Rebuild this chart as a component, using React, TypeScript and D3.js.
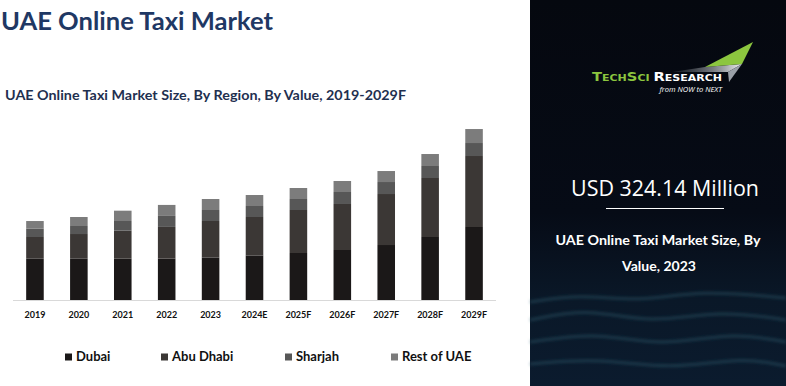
import React from 'react';
import * as d3 from 'd3';

const years = ['2019', '2020', '2021', '2022', '2023', '2024E', '2025F', '2026F', '2027F', '2028F', '2029F'];
const dubai = [132.5, 132.5, 132.6, 132.8, 135.8, 142.2, 150.9, 160.5, 176.5, 202.2, 234.3];
const abuDhabi = [69.7, 79.3, 89.9, 101.8, 117.8, 124.2, 138.0, 147.7, 163.7, 189.4, 227.9];
const sharjah = [26.6, 25.7, 31.1, 35.3, 35.3, 35.3, 35.3, 38.5, 38.5, 38.5, 41.7];
const restOfUAE = [24.7, 28.9, 33.1, 35.3, 35.3, 35.3, 35.3, 35.3, 35.3, 38.5, 44.9];
const seriesNames = ['Dubai', 'Abu Dhabi', 'Sharjah', 'Rest of UAE'];
const seriesColors = ['#1b1818', '#3b3735', '#575757', '#7c7c7c'];

const mainTitle = 'UAE Online Taxi Market';
const chartTitle = 'UAE Online Taxi Market Size, By Region, By Value, 2019-2029F';
const headlineValue = 'USD 324.14 Million';
const headlineCaption1 = 'UAE Online Taxi Market Size, By';
const headlineCaption2 = 'Value, 2023';

const W = 786;
const H = 386;

export default function App() {
  const seriesArrays = [dubai, abuDhabi, sharjah, restOfUAE];
  const rows = years.map((y, i) => {
    const r: any = { year: y };
    seriesNames.forEach((s, k) => (r[s] = seriesArrays[k][i]));
    return r;
  });
  const stacked = d3.stack().keys(seriesNames)(rows);

  const x = d3.scaleBand().domain(years).range([13, 496]).paddingInner(0.6).paddingOuter(0.3);
  const y = d3.scaleLinear().domain([0, 600]).range([300, 300 - 600 / 3.21]);

  const wave = d3.line<[number, number]>().curve(d3.curveBasis);
  const waves: [number, number][][] = [
    [[530, 302], [580, 294], [640, 302], [700, 290], [786, 298]],
    [[530, 320], [590, 308], [650, 324], [720, 310], [786, 320]],
    [[530, 342], [600, 332], [660, 347], [730, 332], [786, 342]],
    [[530, 364], [600, 358], [670, 370], [740, 357], [786, 366]],
  ];

  const legendX = [65, 161, 285, 391];

  return (
    <svg width={W} height={H} style={{ position: 'absolute', left: 0, top: 0 }} fontFamily="Lato, 'Open Sans', sans-serif">
      <defs>
        <linearGradient id="panelBg" x1="0" y1="0" x2="0" y2="1">
          <stop offset="0" stopColor="#05080f" />
          <stop offset="0.55" stopColor="#060b16" />
          <stop offset="0.78" stopColor="#0a1828" />
          <stop offset="1" stopColor="#0b1b2e" />
        </linearGradient>
        <linearGradient id="bandGrad" x1="0" y1="0" x2="1" y2="0">
          <stop offset="0" stopColor="#5a6068" stopOpacity="0.2" />
          <stop offset="1" stopColor="#f0f2f4" />
        </linearGradient>
        <filter id="soft" x="-10%" y="-50%" width="120%" height="200%">
          <feGaussianBlur stdDeviation="1.6" />
        </filter>
      </defs>
      <rect x={0} y={0} width={W} height={H} fill="#ffffff" />

      {/* Right panel */}
      <rect x={530} y={0} width={256} height={H} fill="url(#panelBg)" />
      <g filter="url(#soft)">
        {waves.map((w, i) => (
          <path key={i} d={wave(w) || ''} fill="none" stroke="#2c5a6c" strokeOpacity={0.45} strokeWidth={3} />
        ))}
      </g>

      {/* Logo */}
      <polygon points="672,72 705,67 742,64 728,72" fill="url(#bandGrad)" />
      <polygon points="728,72 742,64 729,82" fill="#9aa0a8" />
      <polygon points="753,42 705,67 742,64" fill="#8cc63f" />
      <text x={592} y={81} fontFamily="'DejaVu Sans', sans-serif" fontWeight="bold" textLength={130} lengthAdjust="spacingAndGlyphs">
        <tspan fill="#8cc63f" fontSize={12}>T</tspan>
        <tspan fill="#8cc63f" fontSize={9}>ECH</tspan>
        <tspan fill="#8cc63f" fontSize={12}>S</tspan>
        <tspan fill="#8cc63f" fontSize={9}>CI </tspan>
        <tspan fill="#ffffff" fontSize={12}>R</tspan>
        <tspan fill="#ffffff" fontSize={9}>ESEARCH</tspan>
      </text>
      <text x={722} y={92} textAnchor="end" fill="#ffffff" fontSize={7.5} fontStyle="italic" fontFamily="'Open Sans', sans-serif">
        from NOW to NEXT
      </text>

      <text x={665} y={196} textAnchor="middle" fill="#ffffff" fontSize={21} fontFamily="'Open Sans', sans-serif" textLength={188} lengthAdjust="spacingAndGlyphs">
        {headlineValue}
      </text>
      <line x1={606} x2={724} y1={208.5} y2={208.5} stroke="#ffffff" strokeWidth={1} />
      <text x={658} y={245} textAnchor="middle" fill="#ffffff" fontSize={13} fontWeight="bold" textLength={205} lengthAdjust="spacingAndGlyphs">
        {headlineCaption1}
      </text>
      <text x={659} y={271} textAnchor="middle" fill="#ffffff" fontSize={13} fontWeight="bold" textLength={74} lengthAdjust="spacingAndGlyphs">
        {headlineCaption2}
      </text>

      {/* Titles */}
      <text x={1} y={30} fill="#1f3864" fontSize={24} fontWeight="bold" textLength={272} lengthAdjust="spacingAndGlyphs">
        {mainTitle}
      </text>
      <text x={5} y={100} fill="#1f3050" fontSize={14} fontWeight="bold" textLength={401} lengthAdjust="spacingAndGlyphs">
        {chartTitle}
      </text>

      {/* Bars */}
      {stacked.map((s, k) => (
        <g key={s.key} fill={seriesColors[k]}>
          {s.map((d: any, i) => (
            <rect
              key={i}
              x={x(d.data.year)}
              y={y(d[1])}
              width={x.bandwidth()}
              height={y(d[0]) - y(d[1])}
            />
          ))}
        </g>
      ))}

      {/* Axis */}
      <line x1={13} x2={496} y1={300.5} y2={300.5} stroke="#d9d9d9" strokeWidth={1} />
      {years.map((yr) => (
        <text
          key={yr}
          x={(x(yr) || 0) + x.bandwidth() / 2}
          y={318}
          textAnchor="middle"
          fontSize={9}
          fontWeight="bold"
          fill="#111111"
        >
          {yr}
        </text>
      ))}

      {/* Legend */}
      {seriesNames.map((n, k) => (
        <g key={n}>
          <rect x={legendX[k]} y={353.5} width={7} height={7} fill={seriesColors[k]} />
          <text x={legendX[k] + 11} y={361} fontSize={13} fontWeight="bold" fill="#111111">
            {n}
          </text>
        </g>
      ))}
    </svg>
  );
}
